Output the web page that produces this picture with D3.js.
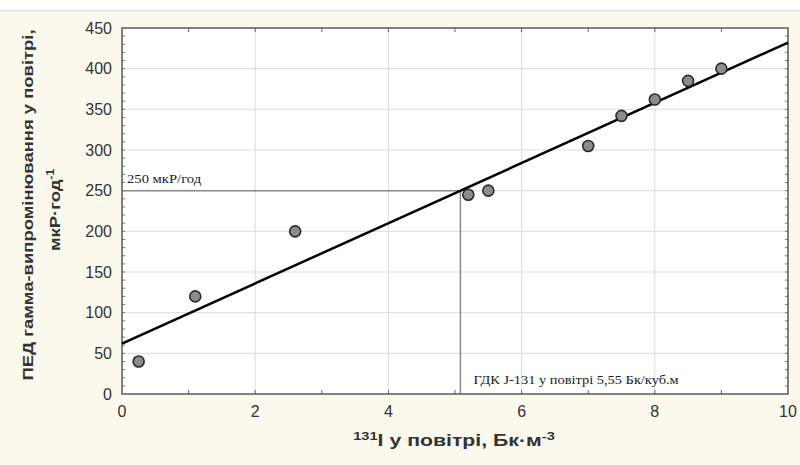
<!DOCTYPE html>
<html>
<head>
<meta charset="utf-8">
<script src="https://cdn.jsdelivr.net/npm/d3@7"></script>
<style>
  body { margin: 0; background: #fbf9ee; }
  svg { display: block; }
</style>
</head>
<body>
<div id="chart"></div>
<script>
// measured points: 131I in air (Bq/m3) vs gamma dose rate (uR/h)
const iodine = [0.25, 1.1, 2.6, 5.2, 5.5, 7.0, 7.5, 8.0, 8.5, 9.0];
const doseRate = [40, 120, 200, 245, 250, 305, 342, 362, 385, 400];
const xTicks = [0, 2, 4, 6, 8, 10];
const yTicks = [0, 50, 100, 150, 200, 250, 300, 350, 400, 450];
// fitted line
const fitIntercept = 62;
const fitSlope = 37;
const limitDose = 250;

const width = 800;
const height = 465;
const margin = { top: 28, right: 12, bottom: 71, left: 122 };

const svg = d3.select('#chart').append('svg')
  .attr('width', width)
  .attr('height', height);

svg.append('rect')
  .attr('width', width).attr('height', height)
  .attr('fill', '#fbf9ee');
svg.append('rect')
  .attr('width', width).attr('height', 10)
  .attr('fill', '#ffffff');
svg.append('line')
  .attr('x1', 0).attr('x2', width).attr('y1', 10.5).attr('y2', 10.5)
  .attr('stroke', '#e2e0da');

const x = d3.scaleLinear().domain([0, 10]).range([margin.left, width - margin.right]);
const y = d3.scaleLinear().domain([0, 450]).range([height - margin.bottom, margin.top]);

const g = svg.append('g');

g.append('rect')
  .attr('x', x(0)).attr('y', y(450))
  .attr('width', x(10) - x(0)).attr('height', y(0) - y(450))
  .attr('fill', '#ffffff');

// grid
g.selectAll('.gx').data(xTicks.slice(1, -1)).enter().append('line')
  .attr('x1', d => x(d)).attr('x2', d => x(d))
  .attr('y1', y(0)).attr('y2', y(450))
  .attr('stroke', '#dcdcdc');
g.selectAll('.gy').data(yTicks.slice(1, -1)).enter().append('line')
  .attr('x1', x(0)).attr('x2', x(10))
  .attr('y1', d => y(d)).attr('y2', d => y(d))
  .attr('stroke', '#dcdcdc');

// minor ticks
const xMinor = d3.range(1, 10);
const yMinor = d3.range(10, 450, 10);
[y(0), y(450)].forEach((yy, k) => {
  g.selectAll('.mx' + k).data(xMinor).enter().append('line')
    .attr('x1', d => x(d)).attr('x2', d => x(d))
    .attr('y1', yy).attr('y2', k === 0 ? yy - 4 : yy + 4)
    .attr('stroke', '#666').attr('stroke-width', 1);
});
[x(0), x(10)].forEach((xx, k) => {
  g.selectAll('.my' + k).data(yMinor).enter().append('line')
    .attr('x1', xx).attr('x2', k === 0 ? xx + 3 : xx - 3)
    .attr('y1', d => y(d)).attr('y2', d => y(d))
    .attr('stroke', '#777').attr('stroke-width', 1);
});

// limit lines
const xLimit = (limitDose - fitIntercept) / fitSlope;
g.append('line')
  .attr('x1', x(0)).attr('x2', x(xLimit))
  .attr('y1', y(limitDose)).attr('y2', y(limitDose))
  .attr('stroke', '#8a8a8a').attr('stroke-width', 1.5);
g.append('line')
  .attr('x1', x(xLimit)).attr('x2', x(xLimit))
  .attr('y1', y(0)).attr('y2', y(limitDose))
  .attr('stroke', '#8a8a8a').attr('stroke-width', 1.5);

g.append('g')
  .attr('transform', `translate(${x(0) + 5}, ${y(limitDose) - 8}) scale(1.22, 1)`)
  .append('text')
  .attr('font-family', 'Liberation Serif, serif')
  .attr('font-size', '12px')
  .attr('fill', '#222')
  .text('250 мкР/год');
g.append('g')
  .attr('transform', `translate(${x(xLimit) + 13}, ${y(0) - 10}) scale(1.2, 1)`)
  .append('text')
  .attr('font-family', 'Liberation Serif, serif')
  .attr('font-size', '12px')
  .attr('fill', '#222')
  .text('ГДК J-131 у повітрі 5,55 Бк/куб.м');

// frame
g.append('rect')
  .attr('x', x(0)).attr('y', y(450))
  .attr('width', x(10) - x(0)).attr('height', y(0) - y(450))
  .attr('fill', 'none')
  .attr('stroke', '#5a5a5a').attr('stroke-width', 1.5);

// fit line
g.append('line')
  .attr('x1', x(0)).attr('y1', y(fitIntercept))
  .attr('x2', x(10)).attr('y2', y(fitIntercept + fitSlope * 10))
  .attr('stroke', '#000').attr('stroke-width', 2.5);

// points
g.selectAll('.pt').data(iodine).enter().append('circle')
  .attr('cx', d => x(d))
  .attr('cy', (d, i) => y(doseRate[i]))
  .attr('r', 5.5)
  .attr('fill', '#8c8c8c')
  .attr('stroke', '#2a2a2a')
  .attr('stroke-width', 1.6);

// tick labels
g.selectAll('.xl').data(xTicks).enter().append('text')
  .attr('x', d => x(d)).attr('y', y(0) + 23)
  .attr('text-anchor', 'middle')
  .attr('font-family', 'Liberation Sans, Arial, sans-serif')
  .attr('font-size', '16px')
  .attr('fill', '#333')
  .text(d => d);
g.selectAll('.yl').data(yTicks).enter().append('text')
  .attr('x', x(0) - 10).attr('y', d => y(d) + 5.5)
  .attr('text-anchor', 'end')
  .attr('font-family', 'Liberation Sans, Arial, sans-serif')
  .attr('font-size', '16px')
  .attr('fill', '#333')
  .text(d => d);

// axis titles (stretched horizontally like the scanned original)
const xt = svg.append('g')
  .attr('transform', 'translate(454, 446) scale(1.33, 1)')
  .append('text')
  .attr('text-anchor', 'middle')
  .attr('font-family', 'Liberation Sans, Arial, sans-serif')
  .attr('font-size', '16px')
  .attr('font-weight', 'bold')
  .attr('fill', '#333');
xt.append('tspan').attr('font-size', '11px').attr('dy', -6).text('131');
xt.append('tspan').attr('dy', 6).text('I у повітрі, Бк·м');
xt.append('tspan').attr('font-size', '11px').attr('dy', -6).text('-3');

const yt = svg.append('g')
  .attr('transform', 'translate(33, 205) rotate(-90) scale(1.23, 1)');
yt.append('text')
  .attr('text-anchor', 'middle')
  .attr('font-family', 'Liberation Sans, Arial, sans-serif')
  .attr('font-size', '15px')
  .attr('font-weight', 'bold')
  .attr('fill', '#333')
  .text('ПЕД гамма-випромінювання у повітрі,');
const yt2 = yt.append('text')
  .attr('x', -4)
  .attr('y', 27)
  .attr('text-anchor', 'middle')
  .attr('font-family', 'Liberation Sans, Arial, sans-serif')
  .attr('font-size', '15px')
  .attr('font-weight', 'bold')
  .attr('fill', '#333');
yt2.append('tspan').text('мкР·год');
yt2.append('tspan').attr('font-size', '10px').attr('dy', -6).text('-1');
</script>
</body>
</html>
